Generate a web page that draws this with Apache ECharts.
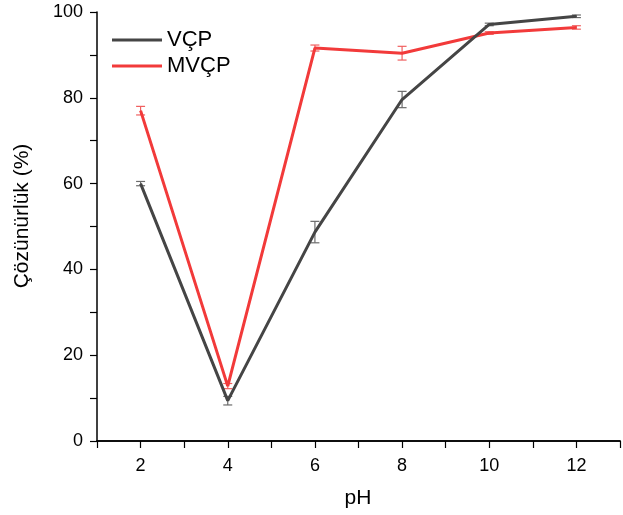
<!DOCTYPE html>
<html>
<head>
<meta charset="utf-8">
<script src="https://cdn.jsdelivr.net/npm/echarts@6/dist/echarts.min.js"></script>
<style>html,body{margin:0;padding:0;background:#fff}#c{width:623px;height:515px}</style>
</head>
<body>
<div id="c"></div>
<script>
const pH = [2, 4, 6, 8, 10, 12];
const vcp = [60.0, 9.4, 48.7, 79.6, 97.1, 99.0];
const vcpErr = [0.5, 1.0, 2.5, 1.9, 0.3, 0.3];
const mvcp = [77.0, 12.8, 91.6, 90.4, 95.1, 96.4];
const mvcpErr = [1.0, 0.6, 0.7, 1.6, 0.3, 0.4];
const seriesNames = ['VÇP', 'MVÇP'];
const xTicks = [2, 4, 6, 8, 10, 12];
const yTicks = [0, 20, 40, 60, 80, 100];
const xTitle = 'pH';
const yTitle = 'Çözünürlük (%)';

const colors = ['#454545', '#f23a3a'];
const errColors = ['#6b6b6b', '#f06060'];

function pts(vals) { return pH.map((x, i) => [x, vals[i]]); }
function errData(vals, errs) { return pH.map((x, i) => [x, vals[i] - errs[i], vals[i] + errs[i]]); }
function errSeries(vals, errs, color) {
  return {
    type: 'custom',
    data: errData(vals, errs),
    z: 1,
    silent: true,
    renderItem: function (params, api) {
      const x = api.value(0);
      const lo = api.coord([x, api.value(1)]);
      const hi = api.coord([x, api.value(2)]);
      const w = 4.5;
      const st = { stroke: color, lineWidth: 1.2 };
      return {
        type: 'group',
        children: [
          { type: 'line', shape: { x1: lo[0], y1: lo[1], x2: hi[0], y2: hi[1] }, style: st },
          { type: 'line', shape: { x1: lo[0] - w, y1: lo[1], x2: lo[0] + w, y2: lo[1] }, style: st },
          { type: 'line', shape: { x1: hi[0] - w, y1: hi[1], x2: hi[0] + w, y2: hi[1] }, style: st }
        ]
      };
    }
  };
}

const chart = echarts.init(document.getElementById('c'));
const font = '"Liberation Sans", Arial, sans-serif';
chart.setOption({
  animation: false,
  backgroundColor: '#fff',
  grid: { left: 97, right: 3, top: 12, bottom: 74 },
  legend: {
    orient: 'vertical',
    left: 112, top: 29, padding: 0,
    itemWidth: 50, itemHeight: 3, itemGap: 4,
    icon: 'rect',
    textStyle: { fontFamily: font, fontSize: 22, color: '#000' },
    data: seriesNames
  },
  graphic: [
    {
      type: 'text', x: 22, y: 216, rotation: Math.PI / 2,
      style: { text: yTitle, fontFamily: font, fontSize: 21, fill: '#000', align: 'center', verticalAlign: 'middle' }
    },
    {
      type: 'text', x: 358, y: 498,
      style: { text: xTitle, fontFamily: font, fontSize: 21, fill: '#000', align: 'center', verticalAlign: 'middle' }
    }
  ],
  xAxis: [{
    type: 'value', min: 1, max: 13, interval: 1,
    axisLine: { show: true, onZero: false, lineStyle: { color: '#000', width: 1.5 } },
    axisTick: { show: true, length: 7, lineStyle: { color: '#000', width: 1.2 } },
    axisLabel: {
      fontFamily: font, fontSize: 18, color: '#000', margin: 16,
      formatter: v => xTicks.includes(v) ? String(v) : ''
    },
    splitLine: { show: false }
  }, {
    type: 'value', min: 1, max: 13, position: 'top',
    axisLine: { show: true, lineStyle: { color: '#000', width: 1.5 } },
    axisTick: { show: false }, axisLabel: { show: false }, splitLine: { show: false }
  }],
  yAxis: {
    type: 'value', min: 0, max: 100, interval: 10,
    axisLine: { show: true, lineStyle: { color: '#000', width: 1.5 } },
    axisTick: { show: true, length: 7, lineStyle: { color: '#000', width: 1.2 } },
    axisLabel: {
      fontFamily: font, fontSize: 18, color: '#000', margin: 14,
      formatter: v => yTicks.includes(v) ? String(v) : ''
    },
    splitLine: { show: false }
  },
  series: [
    errSeries(vcp, vcpErr, errColors[0]),
    errSeries(mvcp, mvcpErr, errColors[1]),
    {
      name: seriesNames[0], type: 'line', data: pts(vcp), symbol: 'none', z: 3,
      lineStyle: { color: colors[0], width: 3 }, itemStyle: { color: colors[0] }
    },
    {
      name: seriesNames[1], type: 'line', data: pts(mvcp), symbol: 'none', z: 2,
      lineStyle: { color: colors[1], width: 3 }, itemStyle: { color: colors[1] }
    }
  ]
});
</script>
</body>
</html>
